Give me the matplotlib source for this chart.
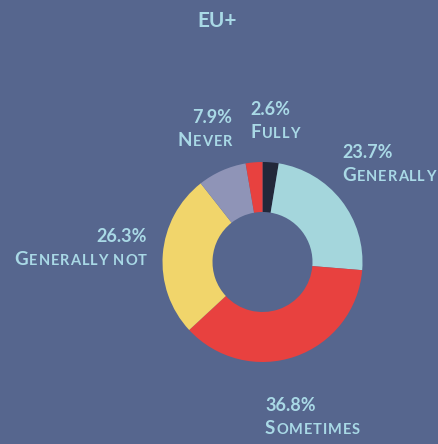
import matplotlib
matplotlib.use("Agg")
import matplotlib.pyplot as plt
from matplotlib.offsetbox import TextArea, HPacker, VPacker, AnnotationBbox

# Survey shares, clockwise from the top of the ring
categories = ["Fully", "Generally", "Sometimes", "Generally not", "Never", "No answer"]
shares = [2.6, 23.7, 36.8, 26.3, 7.9, 2.7]
labelled = [True, True, True, True, True, False]
colors = ["#22283a", "#a4d6dc", "#e8413f", "#f1d56b", "#8f94b7", "#e8413f"]

title = "EU+"
BG = "#56668e"
TXT = "#a9d9e6"
FONT = "Lato"

W, H, DPI = 438, 444, 100
fig = plt.figure(figsize=(W / DPI, H / DPI), dpi=DPI, facecolor=BG)

# donut: centre (262, 262) px, outer radius 100 px
cx, cy, r = 262.5, 262, 100
ax = fig.add_axes([(cx - r) / W, (H - cy - r) / H, 2 * r / W, 2 * r / H])
ax.set_facecolor(BG)
ax.pie(shares, colors=colors, startangle=90, counterclock=False,
       radius=1, wedgeprops=dict(width=0.5, linewidth=0))
ax.set_xlim(-1, 1)
ax.set_ylim(-1, 1)
ax.set_aspect("equal")
ax.axis("off")

fig.text(217 / W, 1 - 21 / H, title, color=TXT, fontsize=15, fontweight="bold",
         family=FONT, ha="center", va="center")


def small_caps(word, big=13.5, small=10.5):
    """Uppercase word with an enlarged initial and slightly spaced letters."""
    props_big = dict(size=big, color=TXT, fontweight="bold", family=FONT)
    props_small = dict(size=small, color=TXT, fontweight="bold", family=FONT)
    parts = []
    for i, ch in enumerate(word.upper()):
        props = props_big if i == 0 else props_small
        parts.append(TextArea(ch, textprops=props))
    return HPacker(children=parts, align="baseline", pad=0, sep=0.7)


# label anchors in pixels (x, y from top) and horizontal alignment
label_pos = {
    "Fully": (250, 121, "left"),
    "Generally": (342, 164, "left"),
    "Sometimes": (265, 417, "left"),
    "Generally not": (147, 248, "right"),
    "Never": (232, 129, "right"),
}

for name, val, show in zip(categories, shares, labelled):
    if not show:
        continue
    x, y, al = label_pos[name]
    pct = TextArea(f"{val:.1f}%", textprops=dict(size=13, color=TXT,
                                                fontweight="bold", family=FONT))
    box = VPacker(children=[pct, small_caps(name)], align=al, pad=0, sep=5)
    ab = AnnotationBbox(box, (x, H - y), xycoords="figure pixels",
                        box_alignment=(0 if al == "left" else 1, 0.5),
                        frameon=False, pad=0)
    fig.add_artist(ab)

fig.savefig("out.png", dpi=DPI, facecolor=BG)
